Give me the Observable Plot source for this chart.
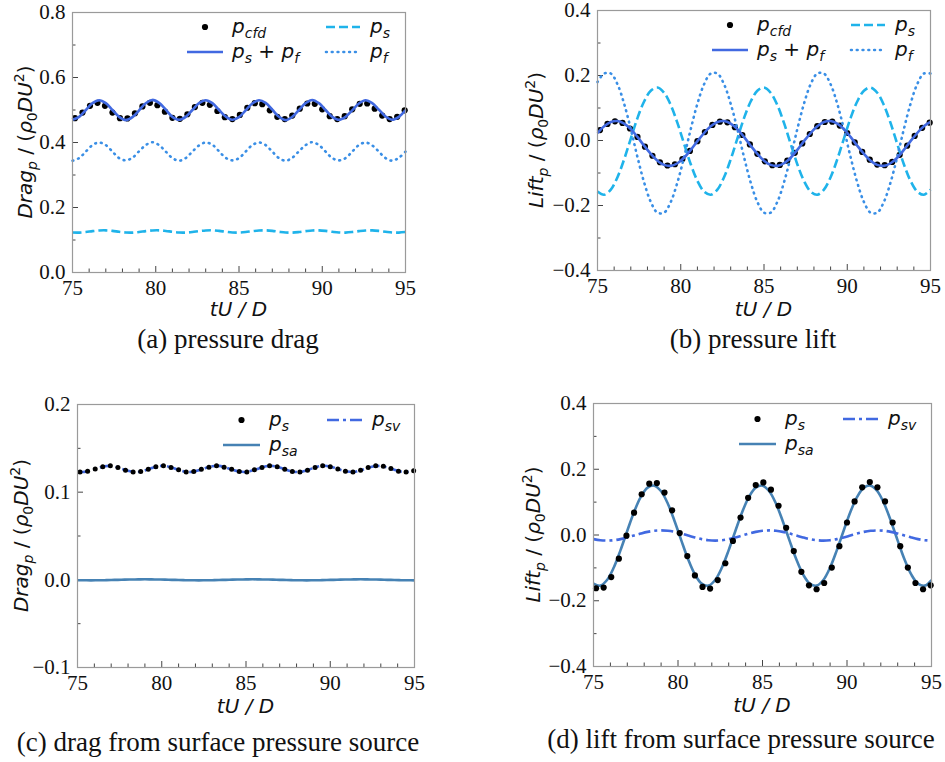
<!DOCTYPE html>
<html>
<head>
<meta charset="utf-8">
<script src="https://cdn.jsdelivr.net/npm/d3@7"></script>
<script src="https://cdn.jsdelivr.net/npm/@observablehq/plot@0.6"></script>
<style>
  html, body { margin: 0; padding: 0; background: #fff; }
  #root { position: relative; width: 945px; height: 762px; overflow: hidden; background: #fff; }
  #root svg { position: absolute; }
</style>
</head>
<body>
<div id="root"></div>
<script>
// ---------------- data ----------------
const tL = [75,75.4,75.8,76.2,76.6,77,77.4,77.8,78.2,78.6,79,79.4,79.8,80.2,80.6,81,81.4,81.8,82.2,82.6,83,83.4,83.8,84.2,84.6,85,85.4,85.8,86.2,86.6,87,87.4,87.8,88.2,88.6,89,89.4,89.8,90.2,90.6,91,91.4,91.8,92.2,92.6,93,93.4,93.8,94.2,94.6,95];
const tD = [75.15,75.6,76.05,76.5,76.95,77.4,77.85,78.3,78.75,79.2,79.65,80.1,80.55,81,81.45,81.9,82.35,82.8,83.25,83.7,84.15,84.6,85.05,85.5,85.95,86.4,86.85,87.3,87.75,88.2,88.65,89.1,89.55,90,90.45,90.9,91.35,91.8,92.25,92.7,93.15,93.6,94.05,94.5,94.95];

const xMajor = [75,80,85,90,95];
const xMinor = [76,77,78,79,81,82,83,84,86,87,88,89,91,92,93,94];

// (a) pressure drag
const dragCfd = [0.475,0.492,0.513,0.522,0.513,0.492,0.475,0.474,0.490,0.511,0.522,0.515,0.495,0.476,0.473,0.487,0.509,0.522,0.516,0.497,0.478,0.472,0.485,0.507,0.521,0.518,0.499,0.479,0.472,0.483,0.504,0.520,0.519,0.502,0.481,0.472,0.481,0.502,0.519,0.520,0.504,0.483,0.472,0.479,0.499];
const dragSum = [0.470,0.479,0.500,0.521,0.530,0.521,0.500,0.479,
  0.469,0.478,0.499,0.521,0.531,0.522,0.501,0.479,
  0.470,0.479,0.500,0.521,0.530,0.521,0.500,0.480,
  0.470,0.478,0.499,0.520,0.530,0.522,0.501,0.479,
  0.469,0.479,0.500,0.521,0.531,0.521,0.500,0.479,
  0.470,0.479,0.499,0.520,0.530,0.521,0.501,0.480,
  0.470,0.479,0.500];
const dragPs = [0.1230,0.1228,0.1245,0.1272,0.1293,0.1297,0.1280,0.1253,
  0.1231,0.1227,0.1246,0.1273,0.1294,0.1297,0.1279,0.1252,
  0.1230,0.1228,0.1245,0.1272,0.1293,0.1298,0.1280,0.1254,
  0.1231,0.1228,0.1244,0.1271,0.1293,0.1297,0.1281,0.1253,
  0.1230,0.1227,0.1245,0.1272,0.1294,0.1297,0.1280,0.1253,
  0.1231,0.1228,0.1245,0.1272,0.1293,0.1296,0.1280,0.1254,
  0.1230,0.1228,0.1245];
const dragPf = [0.344,0.352,0.372,0.392,0.400,0.392,0.372,0.352,
  0.345,0.353,0.373,0.392,0.401,0.392,0.372,0.352,
  0.344,0.352,0.372,0.391,0.400,0.393,0.373,0.353,
  0.345,0.352,0.372,0.392,0.400,0.392,0.372,0.352,
  0.344,0.353,0.373,0.392,0.401,0.392,0.372,0.352,
  0.345,0.352,0.372,0.392,0.400,0.391,0.372,0.352,
  0.344,0.353,0.372];

// (b) pressure lift
const liftCfd = [0.032,0.051,0.059,0.054,0.037,0.011,-0.019,-0.047,-0.067,-0.077,-0.073,-0.057,-0.032,-0.002,0.026,0.048,0.058,0.056,0.041,0.017,-0.012,-0.041,-0.064,-0.076,-0.075,-0.062,-0.038,-0.009,0.020,0.044,0.057,0.058,0.046,0.023,-0.006,-0.035,-0.059,-0.074,-0.076,-0.066,-0.044,-0.016,0.014,0.039,0.055];
const liftSum = [0.023,0.044,0.057,0.060,0.052,0.035,0.011,-0.016,-0.041,-0.062,-0.075,-0.078,-0.070,-0.053,-0.029,-0.002,
  0.023,0.044,0.057,0.060,0.052,0.035,0.011,-0.016,-0.041,-0.062,-0.075,-0.078,-0.070,-0.053,-0.029,-0.002,
  0.023,0.044,0.057,0.060,0.052,0.035,0.011,-0.016,-0.041,-0.062,-0.075,-0.078,-0.070,-0.053,-0.029,-0.002,
  0.023,0.044,0.057];
const liftPs = [-0.157,-0.167,-0.151,-0.113,-0.058,0.006,0.069,0.120,0.153,0.163,0.147,0.109,0.054,-0.010,-0.073,-0.124,
  -0.157,-0.167,-0.151,-0.113,-0.058,0.006,0.069,0.120,0.153,0.163,0.147,0.109,0.054,-0.010,-0.073,-0.124,
  -0.157,-0.167,-0.151,-0.113,-0.058,0.006,0.069,0.120,0.153,0.163,0.147,0.109,0.054,-0.010,-0.073,-0.124,
  -0.157,-0.167,-0.151];
const liftPf = [0.180,0.206,0.206,0.173,0.113,0.035,-0.051,-0.129,-0.189,-0.222,-0.222,-0.189,-0.129,-0.051,0.035,0.113,
  0.173,0.206,0.206,0.173,0.113,0.035,-0.051,-0.129,-0.189,-0.222,-0.222,-0.189,-0.129,-0.051,0.035,0.113,
  0.173,0.206,0.206,0.173,0.113,0.035,-0.051,-0.129,-0.189,-0.222,-0.222,-0.189,-0.129,-0.051,0.035,0.113,
  0.173,0.206,0.206];

// (c) drag from surface pressure source
const dragPsDots = [0.123,0.124,0.1265,0.129,0.130,0.128,0.125,0.123,0.1235,0.126,0.129,0.130,0.128,0.1255,0.123,0.1235,0.126,0.1285,0.130,0.1285,0.126,0.1235,0.123,0.1255,0.128,0.130,0.129,0.126,0.1235,0.123,0.125,0.128,0.130,0.129,0.1265,0.124,0.123,0.125,0.128,0.130,0.1295,0.127,0.124,0.123,0.1245];
const dragPsv = [0.1234,0.1231,0.1249,0.1275,0.1296,0.1299,0.1281,0.1255,
  0.1235,0.1230,0.1248,0.1276,0.1297,0.1299,0.1280,0.1254,
  0.1234,0.1231,0.1249,0.1275,0.1296,0.1300,0.1281,0.1256,
  0.1235,0.1231,0.1248,0.1274,0.1296,0.1299,0.1282,0.1255,
  0.1234,0.1230,0.1249,0.1275,0.1297,0.1299,0.1281,0.1255,
  0.1235,0.1231,0.1249,0.1275,0.1296,0.1298,0.1281,0.1256,
  0.1234,0.1231,0.1249];
const dragPsa = [-0.0004,-0.0005,-0.0006,-0.0005,-0.0004,-0.0002,0.0000,0.0002,0.0004,0.0005,0.0006,0.0005,0.0004,0.0002,0.0000,-0.0002,
  -0.0004,-0.0005,-0.0006,-0.0005,-0.0004,-0.0002,0.0000,0.0002,0.0004,0.0005,0.0006,0.0005,0.0004,0.0002,0.0000,-0.0002,
  -0.0004,-0.0005,-0.0006,-0.0005,-0.0004,-0.0002,0.0000,0.0002,0.0004,0.0005,0.0006,0.0005,0.0004,0.0002,0.0000,-0.0002,
  -0.0004,-0.0005,-0.0006];

// (d) lift from surface pressure source
const liftPsDots = [-0.162,-0.160,-0.128,-0.072,-0.002,0.068,0.124,0.156,0.158,0.129,0.075,0.006,-0.064,-0.123,-0.158,-0.163,-0.137,-0.086,-0.018,0.053,0.113,0.152,0.160,0.138,0.089,0.022,-0.049,-0.112,-0.153,-0.165,-0.146,-0.099,-0.034,0.038,0.102,0.145,0.161,0.145,0.102,0.038,-0.034,-0.099,-0.146,-0.165,-0.153];
const liftPsa = [-0.148,-0.154,-0.137,-0.099,-0.046,0.013,0.070,0.116,0.144,0.150,0.133,0.095,0.042,-0.017,-0.074,-0.120,
  -0.148,-0.154,-0.137,-0.099,-0.046,0.013,0.070,0.116,0.144,0.150,0.133,0.095,0.042,-0.017,-0.074,-0.120,
  -0.148,-0.154,-0.137,-0.099,-0.046,0.013,0.070,0.116,0.144,0.150,0.133,0.095,0.042,-0.017,-0.074,-0.120,
  -0.148,-0.154,-0.137];
const liftPsv = [-0.0125,-0.0158,-0.0170,-0.0158,-0.0125,-0.0074,-0.0015,0.0044,0.0095,0.0128,0.0140,0.0128,0.0095,0.0044,-0.0015,-0.0074,
  -0.0125,-0.0158,-0.0170,-0.0158,-0.0125,-0.0074,-0.0015,0.0044,0.0095,0.0128,0.0140,0.0128,0.0095,0.0044,-0.0015,-0.0074,
  -0.0125,-0.0158,-0.0170,-0.0158,-0.0125,-0.0074,-0.0015,0.0044,0.0095,0.0128,0.0140,0.0128,0.0095,0.0044,-0.0015,-0.0074,
  -0.0125,-0.0158,-0.0170];

// ---------------- style ----------------
const ROYAL = "#4169e1", SKY = "#1fb3ea", DODGER = "#3a8fe6", STEEL = "#4682b4";
const DASHED = "9,4", DOTTED = "0.8,5", DASHDOT = "12,4,3,4";
const SERIF = "'Liberation Serif', 'Times New Roman', serif";
const SANS = "'DejaVu Sans', sans-serif";

// rich text with sub/superscripts
function rich(sel, parts, size) {
  let shift = 0;
  parts.forEach(p => {
    const target = p.sub ? 0.25 * size : p.sup ? -0.42 * size : 0;
    const ts = sel.append("tspan").text(p.t)
      .attr("font-size", (p.sub || p.sup) ? size * 0.7 : size)
      .attr("font-style", p.it ? "italic" : "normal");
    if (target - shift !== 0) ts.attr("dy", target - shift);
    shift = target;
  });
}

function makePanel(cfg) {
  const pw = cfg.w - cfg.ml - cfg.mr, ph = cfg.h - cfg.mt - cfg.mb;
  const lineMarks = cfg.lines.map(s => Plot.line(tL, {
    x: d => d, y: s.y, stroke: s.color, strokeWidth: 2.6,
    strokeDasharray: s.dash, strokeLinecap: s.dash === DOTTED ? "round" : "butt",
    curve: "catmull-rom"
  }));
  const dotMark = Plot.dot(tD, {x: d => d, y: cfg.dots, r: cfg.dotR, fill: "black", stroke: "none"});
  const svg = Plot.plot({
    width: cfg.w, height: cfg.h,
    marginLeft: cfg.ml, marginRight: cfg.mr, marginTop: cfg.mt, marginBottom: cfg.mb,
    x: {domain: [75, 95]},
    y: {domain: cfg.ydom},
    style: {fontFamily: SERIF, fontSize: "21px", color: "#111", background: "transparent", overflow: "visible"},
    marks: [
      Plot.ruleX(xMinor, {x: d => d, insetTop: ph - 3.5, stroke: "#444", strokeWidth: 1}),
      Plot.ruleX(xMajor, {x: d => d, insetTop: ph - 6, stroke: "#444", strokeWidth: 1}),
      Plot.ruleY(cfg.yMin, {y: d => d, insetRight: pw - 3.5, stroke: "#444", strokeWidth: 1}),
      Plot.ruleY(cfg.yMaj, {y: d => d, insetRight: pw - 6, stroke: "#444", strokeWidth: 1}),
      Plot.axisX({ticks: xMajor, tickSize: 0, tickPadding: 8, tickFormat: d => String(d), label: null, fontSize: 21}),
      Plot.axisY({ticks: cfg.yMaj, tickSize: 0, tickPadding: 7, tickFormat: d3.format(".1f"), label: null, fontSize: 21}),
      ...(cfg.dotsOnTop ? [...lineMarks, dotMark] : [dotMark, ...lineMarks]),
      Plot.frame({stroke: "#9a9a9a", strokeWidth: 1.2})
    ]
  });
  svg.style.left = cfg.left + "px";
  svg.style.top = cfg.top + "px";
  const g = d3.select(svg).append("g");

  // x label
  const xl = g.append("text").attr("x", cfg.ml + pw / 2).attr("y", cfg.xlabY)
    .attr("text-anchor", "middle").attr("font-family", SANS).attr("fill", "#111");
  rich(xl, [{t: "tU", it: true}, {t: " / ", it: true}, {t: "D", it: true}], 20);

  // y label
  const yl = g.append("text")
    .attr("transform", `translate(${cfg.ylabX},${cfg.mt + ph / 2}) rotate(-90)`)
    .attr("text-anchor", "middle").attr("font-family", SANS).attr("fill", "#111");
  rich(yl, [{t: cfg.yname, it: true}, {t: "p", it: true, sub: true}, {t: " / (", it: false},
            {t: "ρ", it: true}, {t: "0", sub: true}, {t: "DU", it: true}, {t: "2", sup: true}, {t: ")"}], 20);

  // legend
  const lg = g.append("g").attr("transform", `translate(${cfg.ml},${cfg.mt})`);
  cfg.legend.forEach(it => {
    const [x0, x1, xt] = cfg.legCols[it.col];
    const y = cfg.legRows[it.row];
    if (it.dot) {
      lg.append("circle").attr("cx", (x0 + x1) / 2).attr("cy", y).attr("r", 3.1).attr("fill", "black");
    } else {
      lg.append("line").attr("x1", x0).attr("x2", x1).attr("y1", y).attr("y2", y)
        .attr("stroke", it.color).attr("stroke-width", 2.6)
        .attr("stroke-linecap", it.dash === DOTTED ? "round" : "butt")
        .attr("stroke-dasharray", it.dash || null);
    }
    const t = lg.append("text").attr("x", xt).attr("y", y).attr("dy", "0.3em")
      .attr("text-anchor", "start")
      .attr("font-family", SANS).attr("fill", "#111");
    rich(t, it.label, 20);
  });

  // caption
  g.append("text").attr("x", cfg.capX).attr("y", cfg.capY).attr("text-anchor", "middle")
    .attr("font-family", SERIF).attr("font-size", 27).attr("fill", "#111").text(cfg.caption);

  document.getElementById("root").appendChild(svg);
}

const P = (s) => [{t: "p", it: true}, {t: s, it: true, sub: true}];
const legABcols = [[115, 151, 160], [254, 288, 298]], legABrows = [15, 40];
const legCDcols = [[146, 183, 192], [250, 286, 295]], legCDrows = [16, 41];

makePanel({
  left: 0, top: 0, w: 470, h: 380, ml: 72, mr: 65, mt: 12, mb: 108,
  ydom: [0, 0.8], yMaj: [0, 0.2, 0.4, 0.6, 0.8], yMin: [0.1, 0.3, 0.5, 0.7],
  dots: dragCfd, dotsOnTop: false, dotR: 3.1,
  lines: [{y: dragPs, color: SKY, dash: DASHED}, {y: dragPf, color: DODGER, dash: DOTTED}, {y: dragSum, color: ROYAL}],
  yname: "Drag", xlabY: 316, ylabX: 32,
  legCols: legABcols, legRows: legABrows,
  legend: [
    {col: 0, row: 0, dot: true, label: P("cfd")},
    {col: 1, row: 0, color: SKY, dash: DASHED, label: P("s")},
    {col: 0, row: 1, color: ROYAL, label: [...P("s"), {t: " + "}, ...P("f")]},
    {col: 1, row: 1, color: DODGER, dash: DOTTED, label: P("f")}
  ],
  caption: "(a) pressure drag", capX: 228, capY: 348
});

makePanel({
  left: 470, top: 0, w: 475, h: 380, ml: 127, mr: 15, mt: 10, mb: 110,
  ydom: [-0.4, 0.4], yMaj: [-0.4, -0.2, 0, 0.2, 0.4], yMin: [-0.3, -0.1, 0.1, 0.3],
  dots: liftCfd, dotsOnTop: false, dotR: 3.1,
  lines: [{y: liftPs, color: SKY, dash: DASHED}, {y: liftPf, color: DODGER, dash: DOTTED}, {y: liftSum, color: ROYAL}],
  yname: "Lift", xlabY: 316, ylabX: 73,
  legCols: legABcols, legRows: legABrows,
  legend: [
    {col: 0, row: 0, dot: true, label: P("cfd")},
    {col: 1, row: 0, color: SKY, dash: DASHED, label: P("s")},
    {col: 0, row: 1, color: ROYAL, label: [...P("s"), {t: " + "}, ...P("f")]},
    {col: 1, row: 1, color: DODGER, dash: DOTTED, label: P("f")}
  ],
  caption: "(b) pressure lift", capX: 283, capY: 348
});

makePanel({
  left: 0, top: 380, w: 470, h: 382, ml: 77, mr: 56, mt: 24, mb: 95,
  ydom: [-0.1, 0.2], yMaj: [-0.1, 0, 0.1, 0.2], yMin: [-0.05, 0.05, 0.15],
  dots: dragPsDots, dotsOnTop: true, dotR: 2.5,
  lines: [{y: dragPsa, color: STEEL}, {y: dragPsv, color: ROYAL, dash: DASHDOT}],
  yname: "Drag", xlabY: 333, ylabX: 28,
  legCols: legCDcols, legRows: legCDrows,
  legend: [
    {col: 0, row: 0, dot: true, label: P("s")},
    {col: 1, row: 0, color: ROYAL, dash: DASHDOT, label: P("sv")},
    {col: 0, row: 1, color: STEEL, label: P("sa")}
  ],
  caption: "(c) drag from surface pressure source", capX: 218, capY: 371
});

makePanel({
  left: 470, top: 380, w: 475, h: 382, ml: 123, mr: 14, mt: 23, mb: 96,
  ydom: [-0.4, 0.4], yMaj: [-0.4, -0.2, 0, 0.2, 0.4], yMin: [-0.3, -0.1, 0.1, 0.3],
  dots: liftPsDots, dotsOnTop: true, dotR: 3.1,
  lines: [{y: liftPsa, color: STEEL}, {y: liftPsv, color: ROYAL, dash: DASHDOT}],
  yname: "Lift", xlabY: 332, ylabX: 70,
  legCols: legCDcols, legRows: legCDrows,
  legend: [
    {col: 0, row: 0, dot: true, label: P("s")},
    {col: 1, row: 0, color: ROYAL, dash: DASHDOT, label: P("sv")},
    {col: 0, row: 1, color: STEEL, label: P("sa")}
  ],
  caption: "(d) lift from surface pressure source", capX: 271, capY: 368
});
</script>
</body>
</html>
